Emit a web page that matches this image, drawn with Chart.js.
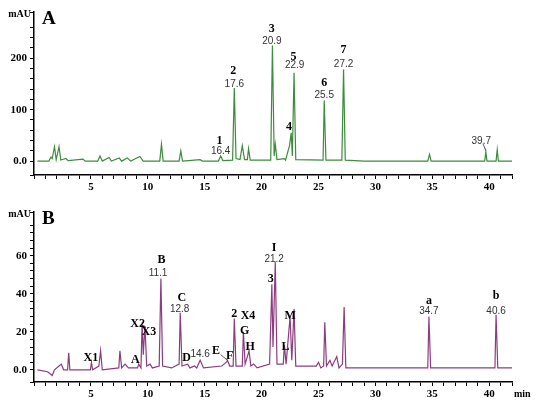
<!DOCTYPE html>
<html lang="en">
<head>
<meta charset="UTF-8">
<title>HPLC chromatograms</title>
<script src="https://cdn.jsdelivr.net/npm/chart.js@4.4.0/dist/chart.umd.min.js"></script>
<style>
  body { margin: 0; background: #fff; }
  .wrap { position: absolute; left: 0; width: 550px; }
</style>
</head>
<body>
<div class="wrap" style="top:0;height:195px"><canvas id="chartA"></canvas></div>
<div class="wrap" style="top:200px;height:202px"><canvas id="chartB"></canvas></div>
<script>
// panel A: [time (min), signal (mAU)]
const traceA = [
  [0.3,0],[1.3,0],[1.5,8],[1.6,5],[1.8,28],[1.95,3],[2.2,28],[2.35,2],[2.8,5],[3.0,1],
  [4.3,4],[4.5,0],[5.6,0],[5.8,10],[6.0,0],[6.6,7],[6.8,0],[7.5,6],[7.7,0],[8.2,6],[8.5,0],
  [9.3,9],[9.6,0],[11.05,0],[11.2,33],[11.35,0],[12.75,0],[12.9,20],[13.05,0],[14.6,3],[14.8,0],
  [16.2,0],[16.4,10],[16.6,1],[17.45,2],[17.6,142],[17.75,5],[18.1,3],[18.3,30],[18.5,3],
  [18.75,3],[18.85,24],[19.0,2],[19.7,2],[20.8,2],[20.95,225],[21.1,10],[21.2,33],[21.35,3],
  [22.0,5],[22.1,2],[22.45,30],[22.6,55],[22.7,10],[22.85,172],[23.0,3],[25.4,2],[25.5,118],
  [25.65,2],[27.05,2],[27.2,178],[27.35,2],[29,0],[34.6,0],[34.75,13],[34.9,0],[39.6,0],
  [39.7,18],[39.8,0],[40.6,0],[40.7,22],[40.8,0],[42,0]
];
// panel B
const traceB = [
  [0.3,0],[1.2,-1],[1.6,-3],[1.8,0],[2.2,2],[2.4,3],[2.6,0],[2.95,0],[3.05,9],[3.15,0],
  [4.0,0],[4.95,0],[5.05,4],[5.15,0],[5.7,2],[5.85,10],[6.0,0],[7.45,1],[7.55,10],[7.7,1],
  [8.0,3],[8.3,1],[9.1,1],[9.2,3],[9.4,1],[9.5,25],[9.6,8],[9.75,23],[9.9,2],[10.2,3],[10.4,1],
  [11.0,2],[11.15,48],[11.3,2],[12.1,1],[12.75,3],[12.85,30],[13.0,2],[13.5,3],[13.7,1],
  [14.1,2],[14.3,1],[14.6,5],[14.9,1],[16.5,2],[16.7,3],[16.9,4],[17.0,5],[17.2,2],[17.5,2],
  [17.6,27],[17.75,2],[18.3,2],[18.4,20],[18.55,3],[18.8,8],[18.9,10],[19.05,2],[19.3,3],
  [19.6,1],[20.7,3],[20.9,45],[21.0,12],[21.2,57],[21.35,3],[21.9,3],[22.0,13],[22.15,3],
  [22.5,28],[22.65,5],[22.85,32],[23.0,2],[24.8,2],[25.0,4],[25.2,1],[25.45,2],[25.55,25],
  [25.7,2],[26.0,5],[26.2,2],[26.6,7],[26.8,1],[27.1,3],[27.25,33],[27.4,1],[28,1],[34.6,1],
  [34.7,28],[34.85,1],[40.5,1],[40.6,29],[40.75,1],[42,1]
];
// peak labels: [time, value, text, bold?]
const labelsA = [
  [16.3,40,'1',1],[16.4,20,'16.4',0],[17.5,176,'2',1],[17.6,150,'17.6',0],
  [20.9,257,'3',1],[20.9,233,'20.9',0],[22.4,67,'4',1],[22.8,202,'5',1],[22.9,186,'22.9',0],
  [25.5,153,'6',1],[25.5,128,'25.5',0],[27.2,216,'7',1],[27.2,188,'27.2',0],[39.3,39,'39.7',0]
];
const labelsB = [
  [5.0,6.4,'X1',1],[9.1,24,'X2',1],[10.1,20,'X3',1],[8.9,5.4,'A',1],[11.2,58,'B',1],
  [10.9,51,'11.1',0],[13.0,38,'C',1],[12.8,32,'12.8',0],[13.4,6.4,'D',1],[14.6,8,'14.6',0],
  [16.0,9.7,'E',1],[17.2,7.5,'F',1],[17.6,29.5,'2',1],[18.8,28.4,'X4',1],[18.5,20.4,'G',1],
  [19.0,11.8,'H',1],[20.8,47.7,'3',1],[21.1,64,'I',1],[21.1,58,'21.2',0],[22.1,12.3,'L',1],
  [22.5,28.4,'M',1],[34.7,36.5,'a',1],[34.7,30.6,'34.7',0],[40.6,39,'b',1],[40.6,31,'40.6',0]
];
// leader lines: [fromT, fromV, toT, toV]
const leadersA = [[39.45,34,39.7,20]];
const leadersB = [[16.4,8,17.0,5]];

const serif = '"Liberation Serif", "Times New Roman", serif';

function makeChart(id, trace, color, yMin, yMax, yMajor, panel, labels, leaders, showMin) {
  const overlay = {
    id: 'overlay',
    afterDraw(chart) {
      const { ctx, scales: { x, y } } = chart;
      ctx.save();
      ctx.textAlign = 'center';
      ctx.textBaseline = 'middle';
      ctx.fillStyle = '#000';
      labels.forEach(([t, v, txt, bold]) => {
        ctx.font = bold ? 'bold 12px ' + serif : '10px "Liberation Sans", Arial, sans-serif';
        ctx.fillStyle = bold ? '#000' : '#333';
        ctx.fillText(txt, x.getPixelForValue(t), y.getPixelForValue(v));
      });
      ctx.strokeStyle = '#333';
      ctx.lineWidth = 0.8;
      leaders.forEach(([t1, v1, t2, v2]) => {
        ctx.beginPath();
        ctx.moveTo(x.getPixelForValue(t1), y.getPixelForValue(v1));
        ctx.lineTo(x.getPixelForValue(t2), y.getPixelForValue(v2));
        ctx.stroke();
      });
      ctx.fillStyle = '#000';
      ctx.font = 'bold 19px ' + serif;
      ctx.textAlign = 'left';
      ctx.fillText(panel, x.left + 8, y.top + 7);
      ctx.font = 'bold 10px ' + serif;
      ctx.textAlign = 'right';
      ctx.fillText('mAU', x.left - 3, y.top + 2);
      if (showMin) {
        ctx.textAlign = 'left';
        ctx.fillText('min', x.right + 2, x.top + 12);
      }
      ctx.restore();
    }
  };
  return new Chart(document.getElementById(id), {
    type: 'scatter',
    data: {
      datasets: [{
        data: trace.map(([t, v]) => ({ x: t, y: v })),
        showLine: true,
        borderColor: color,
        borderWidth: 1.2,
        pointRadius: 0,
        tension: 0
      }]
    },
    options: {
      responsive: true,
      maintainAspectRatio: false,
      animation: false,
      layout: { padding: { top: 12, right: showMin ? 38 : 38 } },
      plugins: { legend: { display: false }, tooltip: { enabled: false } },
      scales: {
        x: {
          type: 'linear', min: 0, max: 42,
          grid: { drawOnChartArea: false, color: '#000', tickLength: 4, tickWidth: 1 },
          border: { color: '#000', width: 1.5 },
          ticks: {
            stepSize: 1, autoSkip: false, maxRotation: 0, padding: 2,
            color: '#000', font: { family: serif, weight: 'bold', size: 11 },
            callback: v => (v % 5 === 0 && v > 0) ? v : ''
          },
          afterFit(s) { s.height = 20; }
        },
        y: {
          min: yMin, max: yMax,
          grid: { drawOnChartArea: false, color: '#000', tickLength: 4 },
          border: { color: '#000', width: 1.5 },
          ticks: {
            stepSize: yMajor / 5, autoSkip: false, padding: 3,
            color: '#000', font: { family: serif, weight: 'bold', size: 11 },
            callback: v => (Math.abs(v % yMajor) < 1e-6) ? (v === 0 ? '0.0' : v) : ''
          },
          afterFit(s) { s.width = 34; }
        }
      }
    },
    plugins: [overlay]
  });
}

makeChart('chartA', traceA, '#3d8c3d', -27, 290, 100, 'A', labelsA, leadersA, false);
makeChart('chartB', traceB, '#8c3d80', -6.4, 83, 20, 'B', labelsB, leadersB, true);
</script>
</body>
</html>
